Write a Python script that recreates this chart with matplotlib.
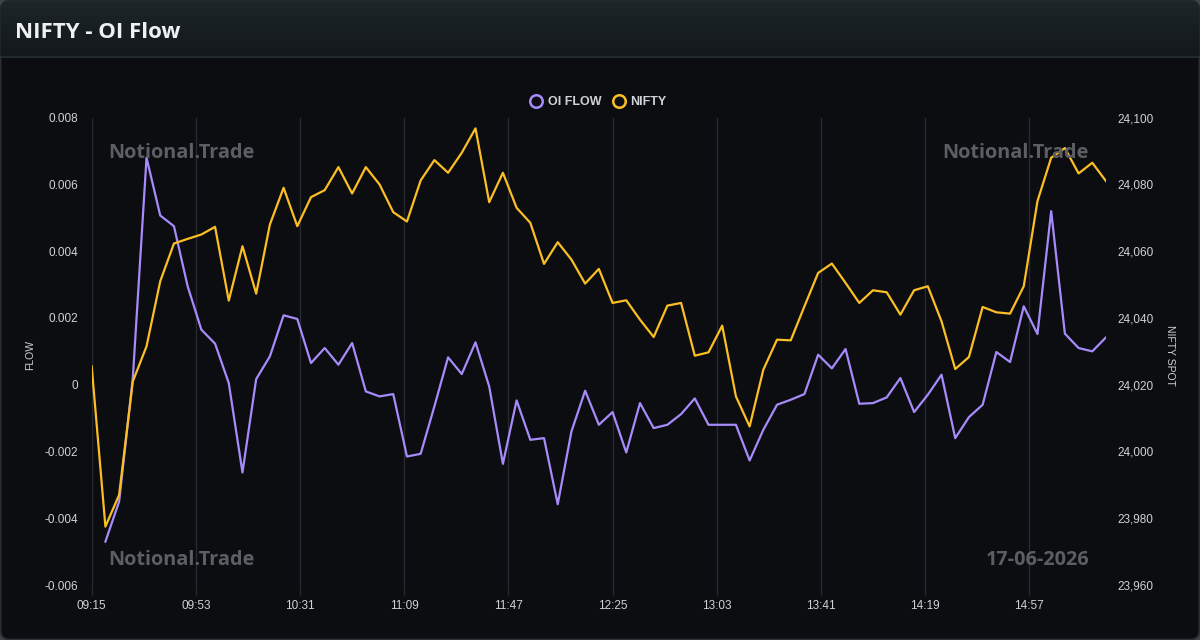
import numpy as np
import matplotlib
matplotlib.use("Agg")
import matplotlib.pyplot as plt
from matplotlib.patches import FancyBboxPatch
from matplotlib.lines import Line2D

# ---- data (5-minute bars, 09:15 -> 15:25) ----
START_MIN = 9 * 60 + 15
STEP_MIN = 5

oi_flow = [np.nan, -0.0047, -0.0035, 0.0002, 0.0068, 0.00507, 0.00475, 0.00295, 0.00165, 0.00123,
           0.00005, -0.00263, 0.00017, 0.00085, 0.00208, 0.00197, 0.00065, 0.0011, 0.0006, 0.00125,
           -0.0002, -0.00035, -0.00028, -0.00215, -0.00207, -0.00065, 0.00082, 0.00032, 0.00127, -0.00005,
           -0.00237, -0.00047, -0.00165, -0.0016, -0.00358, -0.0014, -0.00018, -0.0012, -0.00082, -0.00203,
           -0.00055, -0.0013, -0.0012, -0.00088, -0.00041, -0.0012, -0.0012, -0.0012, -0.00227, -0.00135,
           -0.0006, -0.00045, -0.00028, 0.0009, 0.00049, 0.00107, -0.00057, -0.00055, -0.00038, 0.0002,
           -0.00082, -0.0003, 0.0003, -0.0016, -0.00097, -0.0006, 0.00098, 0.00068, 0.00235, 0.00152,
           0.0052, 0.00153, 0.0011, 0.001, 0.00142]

nifty = [24025.5, 23977.5, 23987.0, 24021.0, 24031.5, 24051.0, 24062.3, 24063.7, 24065.0, 24067.3,
         24045.2, 24061.5, 24047.3, 24068.0, 24079.0, 24067.5, 24076.2, 24078.3, 24085.2, 24077.3,
         24085.2, 24080.0, 24071.7, 24068.9, 24081.2, 24087.3, 24083.5, 24089.5, 24096.8, 24074.7,
         24083.5, 24073.0, 24068.5, 24056.2, 24062.7, 24057.5, 24050.3, 24054.7, 24044.5, 24045.3,
         24039.5, 24034.3, 24043.7, 24044.5, 24028.7, 24029.7, 24037.7, 24016.5, 24007.5, 24024.5,
         24033.5, 24033.3, 24043.5, 24053.5, 24056.3, 24050.5, 24044.5, 24048.3, 24047.7, 24041.0,
         24048.3, 24049.5, 24039.0, 24024.7, 24028.3, 24043.3, 24041.7, 24041.3, 24049.5, 24075.0,
         24088.0, 24090.9, 24083.3, 24086.5, 24081.0]

xtick_labels = ["09:15", "09:53", "10:31", "11:09", "11:47", "12:25", "13:03", "13:41", "14:19", "14:57"]
flow_ticks = [-0.006, -0.004, -0.002, 0, 0.002, 0.004, 0.006, 0.008]
spot_ticks = [23960, 23980, 24000, 24020, 24040, 24060, 24080, 24100]

TITLE = "NIFTY - OI Flow"
DATE = "17-06-2026"
WATERMARK = "Notional.Trade"

# ---- style ----
OUTER = "#3d4347"
BODY = "#0c0d11"
BORDER = "#2a3034"
PURPLE = "#a78bfa"
ORANGE = "#fbbf24"
GRID = "#262a30"
TICK = "#cfd2d6"
WM = "#5b5e63"

W, H = 1200, 640
fig = plt.figure(figsize=(W / 100, H / 100), dpi=100, facecolor=OUTER)

# background card with header
bg = fig.add_axes([0, 0, 1, 1], zorder=-5)
bg.set_xlim(0, W); bg.set_ylim(H, 0); bg.axis("off")
card = FancyBboxPatch((0.5, 0.5), W - 1, H - 1, boxstyle="round,pad=0,rounding_size=9",
                      fc=BODY, ec=BORDER, lw=1.2)
bg.add_patch(card)
grad = np.linspace(0, 1, 64).reshape(-1, 1)
top = np.array([0x1d, 0x26, 0x29]) / 255
bot = np.array([0x13, 0x18, 0x1b]) / 255
img = top[None, None, :] * (1 - grad[..., None]) + bot[None, None, :] * grad[..., None]
im = bg.imshow(img, extent=(0, W, 56, 0), aspect="auto", zorder=1)
im.set_clip_path(card)
bg.plot([0, W], [56.5, 56.5], color="#283034", lw=1.2, zorder=2)
bg.text(15, 33, TITLE, ha="left", va="center", fontsize=16, fontweight="bold",
        color="#eef0f2", family="Open Sans", zorder=3)

# main axes
def mins(hhmm):
    h, m = hhmm.split(":")
    return int(h) * 60 + int(m) - START_MIN

x = np.arange(len(nifty)) * STEP_MIN
ax = fig.add_axes([91.7 / W, 1 - 585 / H, (1106 - 91.7) / W, (585 - 117.7) / H])
ax.set_facecolor("none")
ax2 = ax.twinx()

ax.plot(x, oi_flow, color=PURPLE, lw=1.6, zorder=3)
ax2.plot(x, nifty, color=ORANGE, lw=1.6, zorder=3)

ax.set_xlim(0, x[-1])
ax.set_ylim(-0.006, 0.008)
ax2.set_ylim(23960, 24100)

ax.set_xticks([mins(t) for t in xtick_labels])
ax.set_xticklabels(xtick_labels)
ax.set_yticks(flow_ticks)
ax.set_yticklabels([("0" if v == 0 else f"{v:.3f}") for v in flow_ticks])
ax2.set_yticks(spot_ticks)
ax2.set_yticklabels([f"{v:,}" for v in spot_ticks])

for a in (ax, ax2):
    for s in a.spines.values():
        s.set_visible(False)
ax.grid(axis="x", color=GRID, lw=1)
ax.grid(axis="y", visible=False)
ax.tick_params(axis="x", length=7, color=GRID, width=1, pad=4, labelsize=8.5, labelcolor=TICK)
ax.tick_params(axis="y", length=0, pad=10, labelsize=8.5, labelcolor=TICK)
ax2.tick_params(axis="y", length=0, pad=8, labelsize=8.5, labelcolor=TICK)
for lab in ax.get_xticklabels() + ax.get_yticklabels() + ax2.get_yticklabels():
    lab.set_family("Liberation Sans")

fig.text(30 / W, 1 - 355 / H, "FLOW", rotation=90, ha="center", va="center",
         fontsize=7.5, color=TICK, family="Liberation Sans")
fig.text(1170 / W, 1 - 355 / H, "NIFTY SPOT", rotation=270, ha="center", va="center",
         fontsize=7.5, color=TICK, family="Liberation Sans")

# legend
handles = [Line2D([0], [0], marker="o", ls="", ms=9, mfc="none", mec=PURPLE, mew=1.8, label="OI FLOW"),
           Line2D([0], [0], marker="o", ls="", ms=9, mfc="none", mec=ORANGE, mew=1.8, label="NIFTY")]
leg = fig.legend(handles=handles, loc="center", bbox_to_anchor=(0.499, 1 - 102 / H), ncol=2,
                 frameon=False, handlelength=0.8, handletextpad=0.5, columnspacing=1.0,
                 prop={"family": "Liberation Sans", "weight": "bold", "size": 9})
for t in leg.get_texts():
    t.set_color(TICK)

# watermarks
wm = dict(fontsize=14.3, fontweight="bold", color=WM, family="Open Sans", va="center", zorder=1)
fig.text(108 / W, 1 - 153 / H, WATERMARK, ha="left", **wm)
fig.text(1089 / W, 1 - 153 / H, WATERMARK, ha="right", **wm)
fig.text(108 / W, 1 - 560 / H, WATERMARK, ha="left", **wm)
fig.text(1089 / W, 1 - 560 / H, DATE, ha="right", **wm)

fig.savefig("out.png", dpi=100, facecolor=OUTER)
